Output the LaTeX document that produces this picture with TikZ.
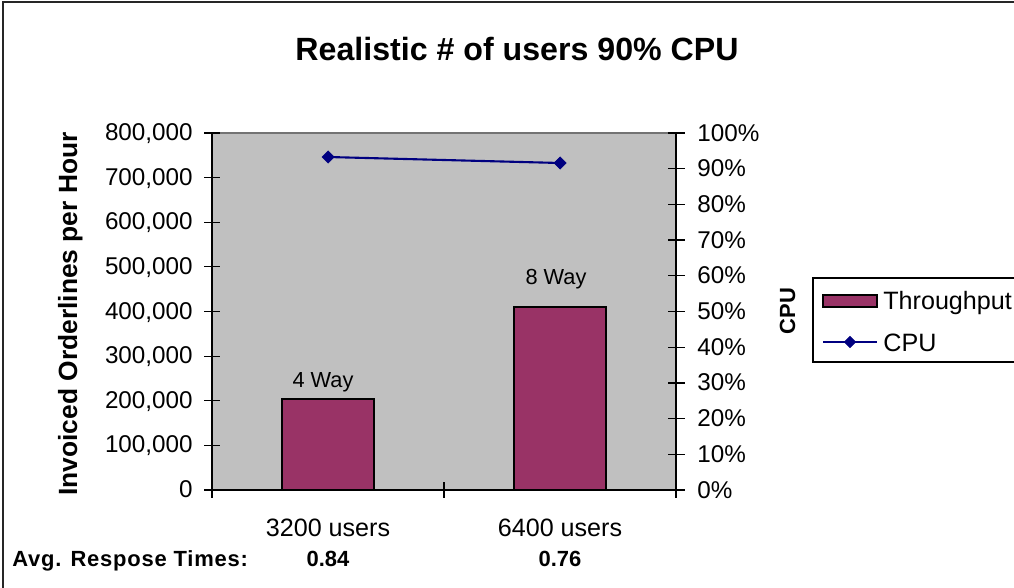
\documentclass[tikz,border=0pt]{standalone}
\usepackage{fontspec}
\setmainfont{Liberation Sans}
\usetikzlibrary{shapes.geometric}
\definecolor{plotgray}{HTML}{C0C0C0}
\definecolor{plum}{HTML}{993366}
\definecolor{cpunavy}{HTML}{000080}
\tikzset{
  axisline/.style={draw=black, line width=0.9pt},
  tickline/.style={draw=black, line width=0.7pt},
  barbox/.style={draw=black, fill=plum, line width=1pt},
  cpuline/.style={draw=cpunavy, line width=1.2pt},
  cpumark/.style={diamond, fill=cpunavy, draw=cpunavy, inner sep=0pt, minimum size=7pt},
  ticklab/.style={font=\fontsize{13.8}{15}\selectfont, inner sep=0pt},
  normlab/.style={font=\fontsize{14.3}{16}\selectfont, inner sep=0pt},
  waylab/.style={font=\fontsize{12.4}{14}\selectfont, inner sep=0pt},
  boldlab/.style={font=\fontsize{12.5}{14}\selectfont\bfseries, inner sep=0pt},
}
\begin{document}
\begin{tikzpicture}[x={(0.02cm,0)}, y={(0,-0.02cm)}]
\useasboundingbox (0,0) rectangle (1014,588);
% outer frame
\draw[line width=1.1pt, draw=black!85] (3,2) rectangle (1030,600);
% title
\node[font=\fontsize{18.3}{20}\selectfont\bfseries, anchor=base, inner sep=0pt] (title) at (517,61) {Realistic \# of users 90\% CPU};
% plot area
\fill[plotgray] (212,133) rectangle (676,490);
\draw[draw=black!55, line width=0.6pt] (212,133) -- (676,133);
% bars
\draw[barbox] (282,490) rectangle (374,399);
\draw[barbox] (514,490) rectangle (606,307);
% axes
\draw[axisline] (212,133) -- (212,490);
\draw[axisline] (676,133) -- (676,490);
\draw[axisline] (212,490) -- (676,490);
% left ticks and labels
\foreach \k/\lab in {0/0,1/{100,000},2/{200,000},3/{300,000},4/{400,000},5/{500,000},6/{600,000},7/{700,000},8/{800,000}}{
  \pgfmathsetmacro{\yy}{490-\k*44.625}
  \draw[tickline] (204,\yy) -- (220,\yy);
  \node[ticklab, anchor=base east] (l\k) at (193,\yy+7.5) {\lab};
}
% right ticks and labels
\foreach \k in {0,...,10}{
  \pgfmathsetmacro{\yy}{490-\k*35.7}
  \pgfmathtruncatemacro{\pc}{\k*10}
  \draw[tickline] (668,\yy) -- (685,\yy);
  \node[ticklab, anchor=base west] (r\k) at (697,\yy+8) {\pc\%};
}
% x ticks
\draw[tickline] (212,490) -- (212,498);
\draw[tickline] (444,482) -- (444,498);
\draw[tickline] (676,490) -- (676,498);
% bar labels
\node[waylab, anchor=base] (w4) at (323,387) {4 Way};
\node[waylab, anchor=base] (w8) at (556,284) {8 Way};
% CPU line
\coordinate (c1) at (328,157);
\coordinate (c2) at (560,163);
\draw[cpuline] (c1) -- (c2);
\node[cpumark] (m1) at (c1) {};
\node[cpumark] (m2) at (c2) {};
% axis titles
\node[font=\fontsize{15}{16}\selectfont\bfseries, rotate=90, anchor=base, inner sep=0pt] (ylab) at (77,314) {Invoiced Orderlines per Hour};
\node[font=\fontsize{12.5}{14}\selectfont\bfseries, rotate=90, anchor=base, inner sep=0pt] (y2lab) at (795,311) {CPU};
% x labels
\node[normlab, anchor=base] (x1) at (328,536) {3200 users};
\node[normlab, anchor=base] (x2) at (560,536) {6400 users};
% response times
\node[boldlab, font=\fontsize{12.5}{14}\selectfont\bfseries\addfontfeatures{LetterSpace=3.5}, anchor=base west] (avg) at (12,566) {Avg. Respose Times:};
\node[boldlab, anchor=base] (t1) at (328,566) {0.84};
\node[boldlab, anchor=base] (t2) at (560,566) {0.76};
% legend
\draw[draw=black, line width=0.6pt] (813,278) rectangle (1030,362);
\draw[barbox, line width=0.8pt] (823,295) rectangle (877,307);
\node[normlab, anchor=base west] (lg1) at (883,309) {Throughput};
\draw[cpuline, line width=0.9pt] (823,342) -- (877,342);
\node[cpumark, minimum size=6.5pt] (lm) at (850,342) {};
\node[normlab, anchor=base west] (lg2) at (883,351) {CPU};
\end{tikzpicture}
\end{document}
